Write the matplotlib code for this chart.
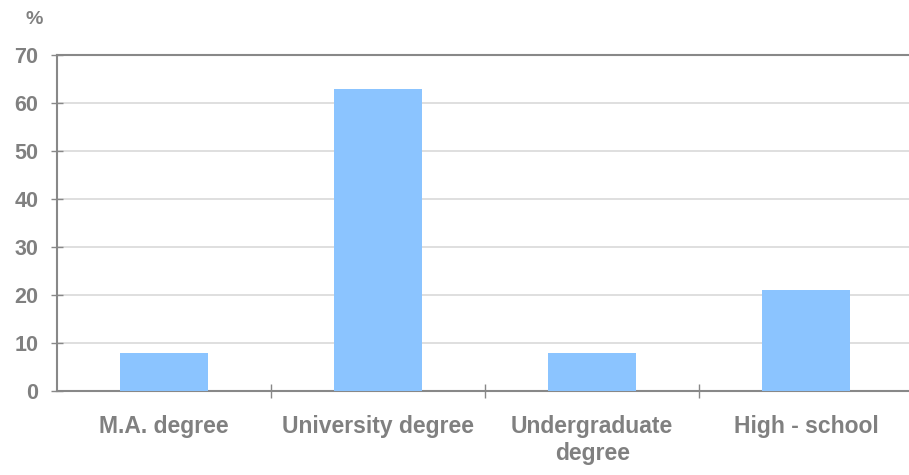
import numpy as np
import matplotlib.pyplot as plt

# education level shares, %
categories = ['M.A. degree', 'University degree', 'Undergraduate\ndegree', 'High - school']
shares = [8, 63, 8, 21]
y_ticks = [0, 10, 20, 30, 40, 50, 60, 70]

bar_color = '#8BC4FF'
text_color = '#808080'
axis_color = '#888888'
grid_color = '#D9D9D9'

plt.rcParams['font.family'] = ['Liberation Sans', 'DejaVu Sans']

fig = plt.figure(figsize=(9.09, 4.75), dpi=100)
ax = fig.add_axes([0.0627, 0.1768, 0.942, 0.7072])

x = np.arange(len(categories))
ax.bar(x, shares, width=0.41, color=bar_color, zorder=3)

ax.set_xlim(-0.5, len(categories) - 0.5)
ax.set_ylim(0, 70)
ax.set_yticks(y_ticks)
ax.yaxis.grid(True, color=grid_color, linewidth=1.2, zorder=0)

# category labels centred on bars, tick marks on the category boundaries
ax.set_xticks(x)
ax.set_xticklabels(categories, fontsize=16.5, fontweight='bold', color=text_color,
                   linespacing=1.25, va='top')
ax.set_xticks(np.arange(0.5, len(categories) - 0.5), minor=True)
ax.tick_params(axis='x', which='major', length=0, pad=17)
ax.tick_params(axis='x', which='minor', direction='inout', length=10, width=1, color=axis_color)
ax.tick_params(axis='y', direction='inout', length=9, width=1, color=axis_color,
               labelsize=15.5, labelcolor=text_color, pad=9)
for lbl in ax.get_yticklabels():
    lbl.set_fontweight('bold')

for side in ['left', 'bottom', 'top']:
    ax.spines[side].set_color(axis_color)
    ax.spines[side].set_linewidth(1.5)
ax.spines['right'].set_visible(False)

fig.text(34 / 909, 1 - 20 / 475, '%', fontsize=14, fontweight='bold', color=text_color,
         ha='center', va='center')

fig.savefig('out.png', dpi=100)
